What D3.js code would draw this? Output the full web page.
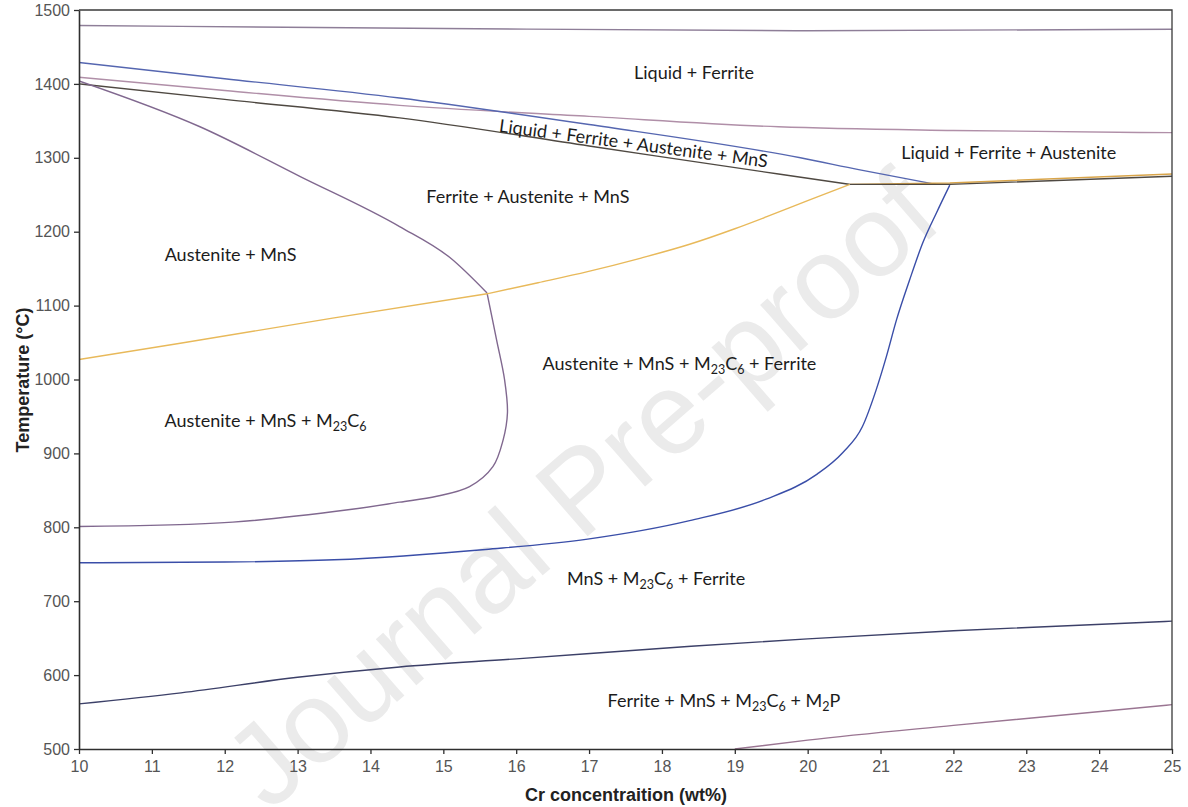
<!DOCTYPE html>
<html>
<head>
<meta charset="utf-8">
<script src="https://cdn.jsdelivr.net/npm/d3@7"></script>
<style>
  html, body { margin: 0; padding: 0; background: #fff; }
  svg { display: block; }
</style>
</head>
<body>
<div id="chart"></div>
<script>
// tick labels
const xTicks = [10, 11, 12, 13, 14, 15, 16, 17, 18, 19, 20, 21, 22, 23, 24, 25];
const yTicks = [500, 600, 700, 800, 900, 1000, 1100, 1200, 1300, 1400, 1500];

// phase boundaries, [Cr wt%, temperature °C]
const topLine = [[10, 1479], [15, 1475], [20, 1472], [25, 1474]];
const blueUpper = [[10, 1429], [12, 1407], [14.4, 1381], [17, 1345], [19.9, 1300], [20.7, 1284], [21.76, 1264]];
const pinkLiquidus = [[10, 1409], [12, 1391], [14.4, 1371], [17, 1356], [19.6, 1342], [22, 1337], [25, 1334]];
const darkSolidus = [[10, 1400], [12, 1379], [14.4, 1354], [17, 1316], [19.6, 1278], [20.58, 1264]];
const darkTail = [[20.58, 1264], [21.95, 1264], [25, 1275]];
const austeniteUpper = [[10, 1404], [11.66, 1342], [13.03, 1275], [14.4, 1207], [15.09, 1165], [15.6, 1117]];
const austeniteLower = [[15.6, 1117], [15.73, 1054], [15.84, 1000], [15.88, 955], [15.82, 918], [15.68, 882], [15.36, 855], [14.91, 842], [14.4, 834], [13.72, 824], [12.11, 807], [10, 801]];
const yellowLeft = [[10, 1027], [11.39, 1049], [13.48, 1083], [15.6, 1116]];
const yellowRight = [[15.6, 1116], [16.3, 1131], [16.98, 1146], [17.7, 1164], [18.38, 1183], [19, 1204], [19.43, 1220], [20, 1242], [20.58, 1264]];
const yellowTail = [[20.58, 1264], [21.95, 1266], [25, 1278]];
const blueSolvus = [[10, 752], [12, 753], [13.5, 756], [15.58, 770], [16.98, 784], [18.38, 809], [19.43, 838], [20.13, 872], [20.48, 901], [20.75, 936], [20.94, 986], [21.08, 1031], [21.22, 1081], [21.4, 1135], [21.58, 1185], [21.77, 1226], [21.95, 1263]];
const navyLower = [[10, 561], [11.4, 576], [13, 597], [14.4, 611], [16, 622], [18.4, 639], [20, 649], [22, 660], [25, 673]];
const pinkLower = [[19, 500], [20, 512], [22, 532], [25, 560]];

// phase field names ("_n" = subscript) and where they sit [Cr, T]
const phaseNames = ["Liquid + Ferrite", "Liquid + Ferrite + Austenite + MnS", "Liquid + Ferrite + Austenite",
  "Ferrite + Austenite + MnS", "Austenite + MnS", "Austenite + MnS + M_23C_6",
  "Austenite + MnS + M_23C_6 + Ferrite", "MnS + M_23C_6 + Ferrite", "Ferrite + MnS + M_23C_6 + M_2P"];
const phaseAt = [[18.44, 1406], [17.6, 1311], [22.76, 1298], [16.16, 1239], [12.08, 1160], [12.56, 936], [18.24, 1013], [17.92, 722], [18.85, 557]];

const W = 1188, H = 807;
const margin = { top: 10, right: 16, bottom: 58, left: 79 },
  width = W - margin.left - margin.right,
  height = H - margin.top - margin.bottom;

const svg = d3.select("#chart")
  .append("svg")
  .attr("width", W)
  .attr("height", H);

// watermark
svg.append("text")
  .attr("transform", "translate(581,489) rotate(-41)")
  .attr("text-anchor", "middle")
  .attr("dominant-baseline", "central")
  .attr("font-family", "Liberation Sans, Arial, sans-serif")
  .attr("font-size", 116)
  .attr("fill", "#ebebeb")
  .text("Journal Pre-proof");

const g = svg.append("g")
  .attr("transform", `translate(${margin.left},${margin.top})`);

const x = d3.scaleLinear().domain([10, 25]).range([0, width]);
const y = d3.scaleLinear().domain([500, 1500]).range([height, 0]);

g.append("clipPath").attr("id", "plot-clip")
  .append("rect").attr("width", width).attr("height", height);

const boundaries = [
  { pts: topLine, color: "#8e7e98", curve: d3.curveMonotoneX },
  { pts: pinkLiquidus, color: "#b08fa8", curve: d3.curveMonotoneX },
  { pts: darkSolidus, color: "#4f4942", curve: d3.curveMonotoneX },
  { pts: blueUpper, color: "#5566b0", curve: d3.curveMonotoneX },
  { pts: austeniteUpper, color: "#80688f", curve: d3.curveMonotoneX },
  { pts: austeniteLower, color: "#80688f", curve: d3.curveCatmullRom },
  { pts: yellowLeft, color: "#e8b95a", curve: d3.curveLinear },
  { pts: yellowRight, color: "#e8b95a", curve: d3.curveMonotoneX },
  { pts: yellowTail, color: "#d9a54a", curve: d3.curveLinear },
  { pts: darkTail, color: "#4f4942", curve: d3.curveLinear },
  { pts: blueSolvus, color: "#3a4ea8", curve: d3.curveMonotoneX },
  { pts: navyLower, color: "#3c4068", curve: d3.curveMonotoneX },
  { pts: pinkLower, color: "#9a7592", curve: d3.curveMonotoneX }
];

const line = d3.line().x(d => x(d[0])).y(d => y(d[1]));

g.append("g").attr("clip-path", "url(#plot-clip)")
  .selectAll("path")
  .data(boundaries)
  .enter().append("path")
  .attr("fill", "none")
  .attr("stroke", d => d.color)
  .attr("stroke-width", 1.4)
  .attr("d", d => line.curve(d.curve)(d.pts));

// axes
const xAxis = g.append("g")
  .attr("transform", `translate(0,${height})`)
  .call(d3.axisBottom(x).tickValues(xTicks).tickFormat(d3.format("d")).tickSize(5).tickSizeOuter(0).tickPadding(7));
const yAxis = g.append("g")
  .call(d3.axisLeft(y).tickValues(yTicks).tickFormat(d3.format("d")).tickSize(5).tickSizeOuter(0).tickPadding(4));

[xAxis, yAxis].forEach(a => {
  a.select(".domain").attr("stroke", "#2e2e2e").attr("stroke-width", 1.6);
  a.selectAll(".tick line").attr("stroke", "#2e2e2e").attr("stroke-width", 1.3);
  a.selectAll(".tick text")
    .attr("font-family", "Liberation Sans, Arial, sans-serif")
    .attr("font-size", 16)
    .attr("fill", "#555");
});

// frame on top and right
g.append("path")
  .attr("fill", "none")
  .attr("stroke", "#3a3a3a")
  .attr("stroke-width", 1.3)
  .attr("d", `M0,0H${width}V${height}`);

// axis titles
svg.append("text")
  .attr("x", 626).attr("y", 801)
  .attr("text-anchor", "middle")
  .attr("font-family", "Liberation Sans, Arial, sans-serif")
  .attr("font-weight", "bold")
  .attr("font-size", 18)
  .attr("fill", "#222")
  .text("Cr concentraition (wt%)");

svg.append("text")
  .attr("transform", "translate(29,380) rotate(-90)")
  .attr("text-anchor", "middle")
  .attr("font-family", "Liberation Sans, Arial, sans-serif")
  .attr("font-weight", "bold")
  .attr("font-size", 18)
  .attr("fill", "#222")
  .text("Temperature (°C)");

// phase field labels
const labels = g.append("g")
  .attr("font-family", "Lato, 'Open Sans', sans-serif")
  .attr("font-size", 18)
  .attr("fill", "#1c1c1c");

phaseNames.forEach((name, i) => {
  const p = phaseAt[i];
  const rot = i === 1 ? 7.6 : 0;
  const t = labels.append("text")
    .attr("transform", `translate(${x(p[0])},${y(p[1])}) rotate(${rot})`)
    .attr("text-anchor", "middle");
  const parts = name.split(/(_\d+)/).filter(s => s.length);
  let shifted = false;
  parts.forEach(s => {
    if (s[0] === "_") {
      t.append("tspan").attr("dy", 4).attr("font-size", 12.5).text(s.slice(1));
      shifted = true;
    } else {
      t.append("tspan").attr("dy", shifted ? -4 : 0).text(s);
      shifted = false;
    }
  });
});
</script>
</body>
</html>
